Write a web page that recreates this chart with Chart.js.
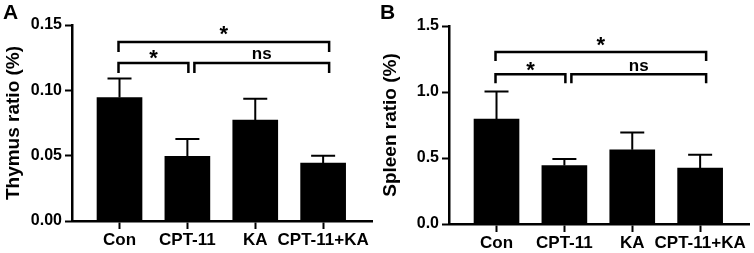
<!DOCTYPE html>
<html>
<head>
<meta charset="utf-8">
<script src="https://cdn.jsdelivr.net/npm/chart.js@4"></script>
<style>
  html, body { margin: 0; padding: 0; background: #fff; }
  .row { display: flex; width: 754px; height: 253px; }
  .panel { position: relative; width: 377px; height: 253px; }
  .panel canvas { position: absolute; left: 0; top: 0; }
  .tag { position: absolute; left: 3px; top: 0; font: bold 21px "Liberation Sans", Arial, sans-serif; line-height: 24px; color: #000; }
</style>
</head>
<body>
<div class="row">
  <div class="panel"><canvas id="thymus" width="377" height="253"></canvas><div class="tag">A</div></div>
  <div class="panel"><canvas id="spleen" width="377" height="253"></canvas><div class="tag">B</div></div>
</div>
<script>
const categories = ['Con', 'CPT-11', 'KA', 'CPT-11+KA'];

const thymusMean = [0.0945, 0.0495, 0.0772, 0.0444];
const thymusSem = [0.0145, 0.0133, 0.0164, 0.0056];
const thymusTicks = ['0.00', '0.05', '0.10', '0.15'];

const spleenMean = [0.794, 0.443, 0.562, 0.424];
const spleenSem = [0.209, 0.049, 0.131, 0.100];
const spleenTicks = ['0.0', '0.5', '1.0', '1.5'];

// significance comparisons: [from, to, label]
const comparisons = [[0, 1, '*'], [1, 3, 'ns'], [0, 3, '*']];
const thymusSigLevel = [0.121, 0.121, 0.137];
const spleenSigLevel = [1.135, 1.135, 1.303];

const FONT = '"Liberation Sans", Arial, sans-serif';

const errSig = {
  id: 'errSig',
  afterDatasetsDraw(chart, args, opts) {
    const { ctx } = chart;
    const x = chart.scales.x, y = chart.scales.y;
    ctx.save();
    ctx.strokeStyle = '#000';
    ctx.fillStyle = '#000';

    // error bars (upper only)
    ctx.lineWidth = 2;
    opts.means.forEach((m, i) => {
      const cx = x.getPixelForValue(i);
      const y0 = y.getPixelForValue(m);
      const y1 = y.getPixelForValue(m + opts.errors[i]);
      ctx.beginPath();
      ctx.moveTo(cx, y0); ctx.lineTo(cx, y1);
      ctx.moveTo(cx - 12, y1); ctx.lineTo(cx + 12, y1);
      ctx.stroke();
    });

    // brackets
    const top = Math.max(...opts.levels);
    ctx.lineWidth = 2.5;
    ctx.lineJoin = 'miter';
    comparisons.forEach(([a, b, label], k) => {
      const lv = y.getPixelForValue(opts.levels[k]);
      const sharedStart = comparisons.some((c, j) => j !== k && c[1] === a && opts.levels[j] === opts.levels[k]);
      const sharedEnd = comparisons.some((c, j) => j !== k && c[0] === b && opts.levels[j] === opts.levels[k]);
      let xa = x.getPixelForValue(a) - 1 + (sharedStart ? 8 : 0);
      let xb = x.getPixelForValue(b) + (sharedEnd ? 1 : 0) + (b === categories.length - 1 ? 6 : 0);
      const leg = opts.leg;
      ctx.beginPath();
      ctx.moveTo(xa, lv + leg); ctx.lineTo(xa, lv); ctx.lineTo(xb, lv); ctx.lineTo(xb, lv + leg);
      ctx.stroke();

      ctx.font = 'bold ' + (label === '*' ? 22 : 17) + 'px ' + FONT;
      ctx.textAlign = 'center';
      ctx.textBaseline = 'alphabetic';
      const mt = ctx.measureText(label);
      const center = lv - (opts.levels[k] === top ? 11 : 8);
      const base = center + (mt.actualBoundingBoxAscent - mt.actualBoundingBoxDescent) / 2;
      ctx.fillText(label, (xa + xb) / 2, base);
    });
    ctx.restore();
  }
};

function makeChart(id, means, errors, ticks, title, levels, padTop, xHeight, leg) {
  const ctx = document.getElementById(id).getContext('2d');
  return new Chart(ctx, {
    type: 'bar',
    data: {
      datasets: [{
        data: means.map((v, i) => ({ x: i, y: v })),
        backgroundColor: '#000',
        borderWidth: 0,
        barThickness: 45,
      }]
    },
    options: {
      responsive: false,
      animation: false,
      layout: { padding: { top: padTop, right: 5, left: 0, bottom: 0 } },
      plugins: {
        legend: { display: false },
        tooltip: { enabled: false },
        errSig: { means: means, errors: errors, levels: levels, leg: leg },
      },
      scales: {
        x: {
          type: 'linear',
          min: -0.7,
          max: 3.72,
          offset: false,
          afterBuildTicks: (s) => { s.ticks = categories.map((c, i) => ({ value: i })); },
          afterFit: (s) => { s.height = xHeight; },
          ticks: {
            callback: (v) => categories[v],
            color: '#000',
            font: { family: FONT, weight: 'bold', size: 17 },
            padding: 1,
            maxRotation: 0,
          },
          grid: { offset: false, drawOnChartArea: false, drawTicks: true, tickLength: 8, tickWidth: 2, tickColor: '#000' },
          border: { display: true, color: '#000', width: 2.5 },
        },
        y: {
          min: 0,
          max: parseFloat(ticks[ticks.length - 1]),
          afterBuildTicks: (s) => { s.ticks = ticks.map((t) => ({ value: parseFloat(t) })); },
          afterFit: (s) => { s.width = 72; },
          ticks: {
            callback: (v, i) => ticks[i],
            color: '#000',
            font: { family: FONT, weight: 'bold', size: 16 },
            padding: 3,
          },
          grid: { drawOnChartArea: false, drawTicks: true, tickLength: 7, tickWidth: 2, tickColor: '#000' },
          border: { display: true, color: '#000', width: 2.5 },
          title: {
            display: true,
            text: title,
            color: '#000',
            font: { family: FONT, weight: 'bold', size: 19 },
            padding: { top: 2, bottom: 0 },
          },
        }
      }
    },
    plugins: [errSig]
  });
}

makeChart('thymus', thymusMean, thymusSem, thymusTicks, 'Thymus ratio (%)', thymusSigLevel, 25, 32, 10);
makeChart('spleen', spleenMean, spleenSem, spleenTicks, 'Spleen ratio (%)', spleenSigLevel, 26, 29, 9);
</script>
</body>
</html>
